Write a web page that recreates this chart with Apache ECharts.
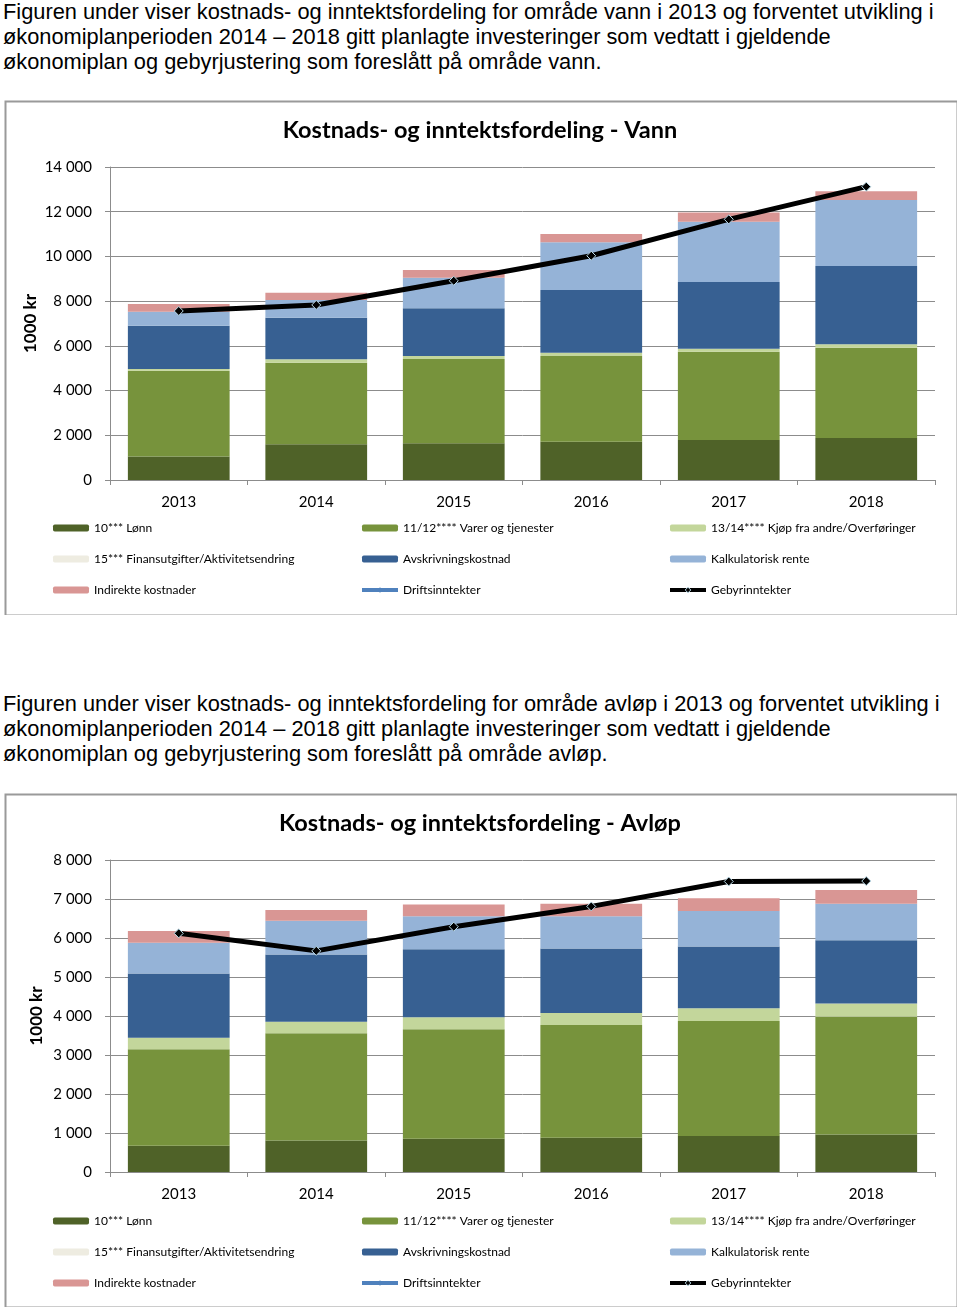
<!DOCTYPE html>
<html>
<head>
<meta charset="utf-8">
<script src="https://cdn.jsdelivr.net/npm/echarts@6/dist/echarts.min.js"></script>
<style>
  html, body { margin: 0; padding: 0; background: #fff; width: 960px; height: 1310px; overflow: hidden; }
  .para { position: absolute; left: 3px; font-family: "Liberation Sans", Arial, sans-serif; font-size: 21.8px; line-height: 25px; color: #000; white-space: nowrap; }
  .chart { position: absolute; left: 3px; width: 954px; }
</style>
</head>
<body>
<div class="para" style="top:-1px;">Figuren under viser kostnads- og inntektsfordeling for område vann i 2013 og forventet utvikling i<br>økonomiplanperioden 2014 – 2018 gitt planlagte investeringer som vedtatt i gjeldende<br>økonomiplan og gebyrjustering som foreslått på område vann.</div>
<div id="c1" class="chart" style="top:99px;height:516px;"></div>
<div class="para" style="top:691px;">Figuren under viser kostnads- og inntektsfordeling for område avløp i 2013 og forventet utvikling i<br>økonomiplanperioden 2014 – 2018 gitt planlagte investeringer som vedtatt i gjeldende<br>økonomiplan og gebyrjustering som foreslått på område avløp.</div>
<div id="c2" class="chart" style="top:792px;height:515px;"></div>
<script>
// ---- data ----
const years = ['2013', '2014', '2015', '2016', '2017', '2018'];
const names = [
  '10*** Lønn',
  '11/12**** Varer og tjenester',
  '13/14**** Kjøp fra andre/Overføringer',
  '15*** Finansutgifter/Aktivitetsendring',
  'Avskrivningskostnad',
  'Kalkulatorisk rente',
  'Indirekte kostnader',
  'Driftsinntekter',
  'Gebyrinntekter'
];
const colors = ['#4f6228', '#77933c', '#c3d69b', '#eeece1', '#376092', '#95b3d7', '#d99694', '#4f81bd', '#000000'];

// Vann
const vannLonn      = [1050, 1600, 1640, 1710, 1790, 1880];
const vannVarer     = [3840, 3650, 3770, 3840, 3950, 4040];
const vannKjop      = [70, 150, 140, 140, 130, 150];
const vannFinans    = [0, 0, 0, 0, 0, 0];
const vannAvskr     = [1940, 1860, 2130, 2810, 2990, 3500];
const vannRente     = [630, 790, 1370, 2130, 2690, 2950];
const vannIndirekte = [340, 330, 340, 370, 420, 400];
const vannDrift     = [null, null, null, null, null, null];
const vannGebyr     = [7560, 7830, 8910, 10030, 11660, 13120];

// Avløp
const avlopLonn      = [670, 810, 850, 880, 920, 960];
const avlopVarer     = [2480, 2750, 2810, 2890, 2950, 3020];
const avlopKjop      = [290, 290, 310, 310, 330, 340];
const avlopFinans    = [0, 0, 0, 0, 0, 0];
const avlopAvskr     = [1650, 1730, 1740, 1650, 1580, 1620];
const avlopRente     = [790, 860, 850, 830, 910, 940];
const avlopIndirekte = [300, 280, 300, 320, 330, 350];
const avlopDrift     = [null, null, null, null, null, null];
const avlopGebyr     = [6120, 5670, 6290, 6810, 7450, 7460];

const vannTicks  = [0, 2000, 4000, 6000, 8000, 10000, 12000, 14000];
const avlopTicks = [0, 1000, 2000, 3000, 4000, 5000, 6000, 7000, 8000];

function fmt(v) { return String(v).replace(/\B(?=(\d{3})+(?!\d))/g, ' '); }

function legendItem(i) {
  if (i === 7) return { name: names[i], lineStyle: { width: 4, color: colors[7] }, itemStyle: { color: colors[7] } };
  if (i === 8) return { name: names[i], lineStyle: { width: 4, color: '#000' }, itemStyle: { color: '#000', borderColor: '#bcdcea', borderWidth: 1 } };
  return { name: names[i] };
}

function makeOption(title, bars, drift, gebyr, ticks, nameGap) {
  const series = bars.map((d, i) => ({
    name: names[i], type: 'bar', stack: 'k', data: d,
    barCategoryGap: '26%',
    itemStyle: { color: colors[i] },
    emphasis: { disabled: true }
  }));
  series.push({
    name: names[7], type: 'line', data: drift,
    symbol: 'diamond', symbolSize: 8,
    lineStyle: { color: colors[7], width: 4 }, itemStyle: { color: colors[7] }
  });
  series.push({
    name: names[8], type: 'line', data: gebyr,
    symbol: 'diamond', symbolSize: 9, z: 5,
    lineStyle: { color: '#000', width: 5 },
    itemStyle: { color: '#000', borderColor: '#bcdcea', borderWidth: 1 }
  });
  const legendBase = {
    orient: 'vertical', top: 423, padding: 0, itemWidth: 36, itemHeight: 7, itemGap: 19,
    textStyle: { fontFamily: 'Lato', fontSize: 12, color: '#000' },
    selectedMode: false
  };
  return {
    animation: false,
    textStyle: { fontFamily: 'Lato' },
    title: {
      text: title, left: 'center', top: 14,
      textStyle: { fontFamily: 'Lato', fontWeight: 'bold', fontSize: 23.5, color: '#000' }
    },
    grid: { left: 107, right: 22, top: 68, bottom: 135, containLabel: false },
    legend: [
      Object.assign({}, legendBase, { left: 50, data: [0, 3, 6].map(legendItem) }),
      Object.assign({}, legendBase, { left: 357, data: [1, 4, 7].map(legendItem) }),
      Object.assign({}, legendBase, { left: 665, data: [2, 5, 8].map(legendItem) })
    ],
    xAxis: {
      type: 'category', data: years,
      axisLine: { lineStyle: { color: '#8c8c8c', width: 1 } },
      axisTick: { show: true, length: 5, lineStyle: { color: '#8c8c8c' } },
      axisLabel: { fontFamily: 'Lato', fontSize: 15, color: '#000', margin: 15 }
    },
    yAxis: {
      type: 'value', min: ticks[0], max: ticks[ticks.length - 1],
      interval: ticks[1] - ticks[0],
      name: '1000 kr', nameLocation: 'middle', nameRotate: 90, nameGap: nameGap,
      nameMoveOverlap: false,
      nameTextStyle: { fontFamily: 'Lato', fontWeight: 'bold', fontSize: 17, color: '#000' },
      axisLine: { show: true, lineStyle: { color: '#8c8c8c', width: 1 } },
      axisTick: { show: true, length: 5, lineStyle: { color: '#8c8c8c' } },
      splitLine: { lineStyle: { color: '#8c8c8c', width: 1 } },
      axisLabel: { fontFamily: 'Lato', fontSize: 15, color: '#000', margin: 18, formatter: fmt }
    },
    series: series
  };
}

function frame(chart, h) {
  chart.setOption({ graphic: [{ type: 'rect', left: 0, top: 0, silent: true,
    shape: { x: 1, y: 1, width: 952, height: h - 2 },
    style: { fill: 'none', stroke: '#9a9a9a', lineWidth: 2 } }] });
}

const c1 = echarts.init(document.getElementById('c1'), null, { renderer: 'canvas' });
c1.setOption(makeOption('Kostnads- og inntektsfordeling - Vann',
  [vannLonn, vannVarer, vannKjop, vannFinans, vannAvskr, vannRente, vannIndirekte],
  vannDrift, vannGebyr, vannTicks, 71));
frame(c1, 516);

const c2 = echarts.init(document.getElementById('c2'), null, { renderer: 'canvas' });
c2.setOption(makeOption('Kostnads- og inntektsfordeling - Avløp',
  [avlopLonn, avlopVarer, avlopKjop, avlopFinans, avlopAvskr, avlopRente, avlopIndirekte],
  avlopDrift, avlopGebyr, avlopTicks, 65));
frame(c2, 515);
</script>
</body>
</html>
